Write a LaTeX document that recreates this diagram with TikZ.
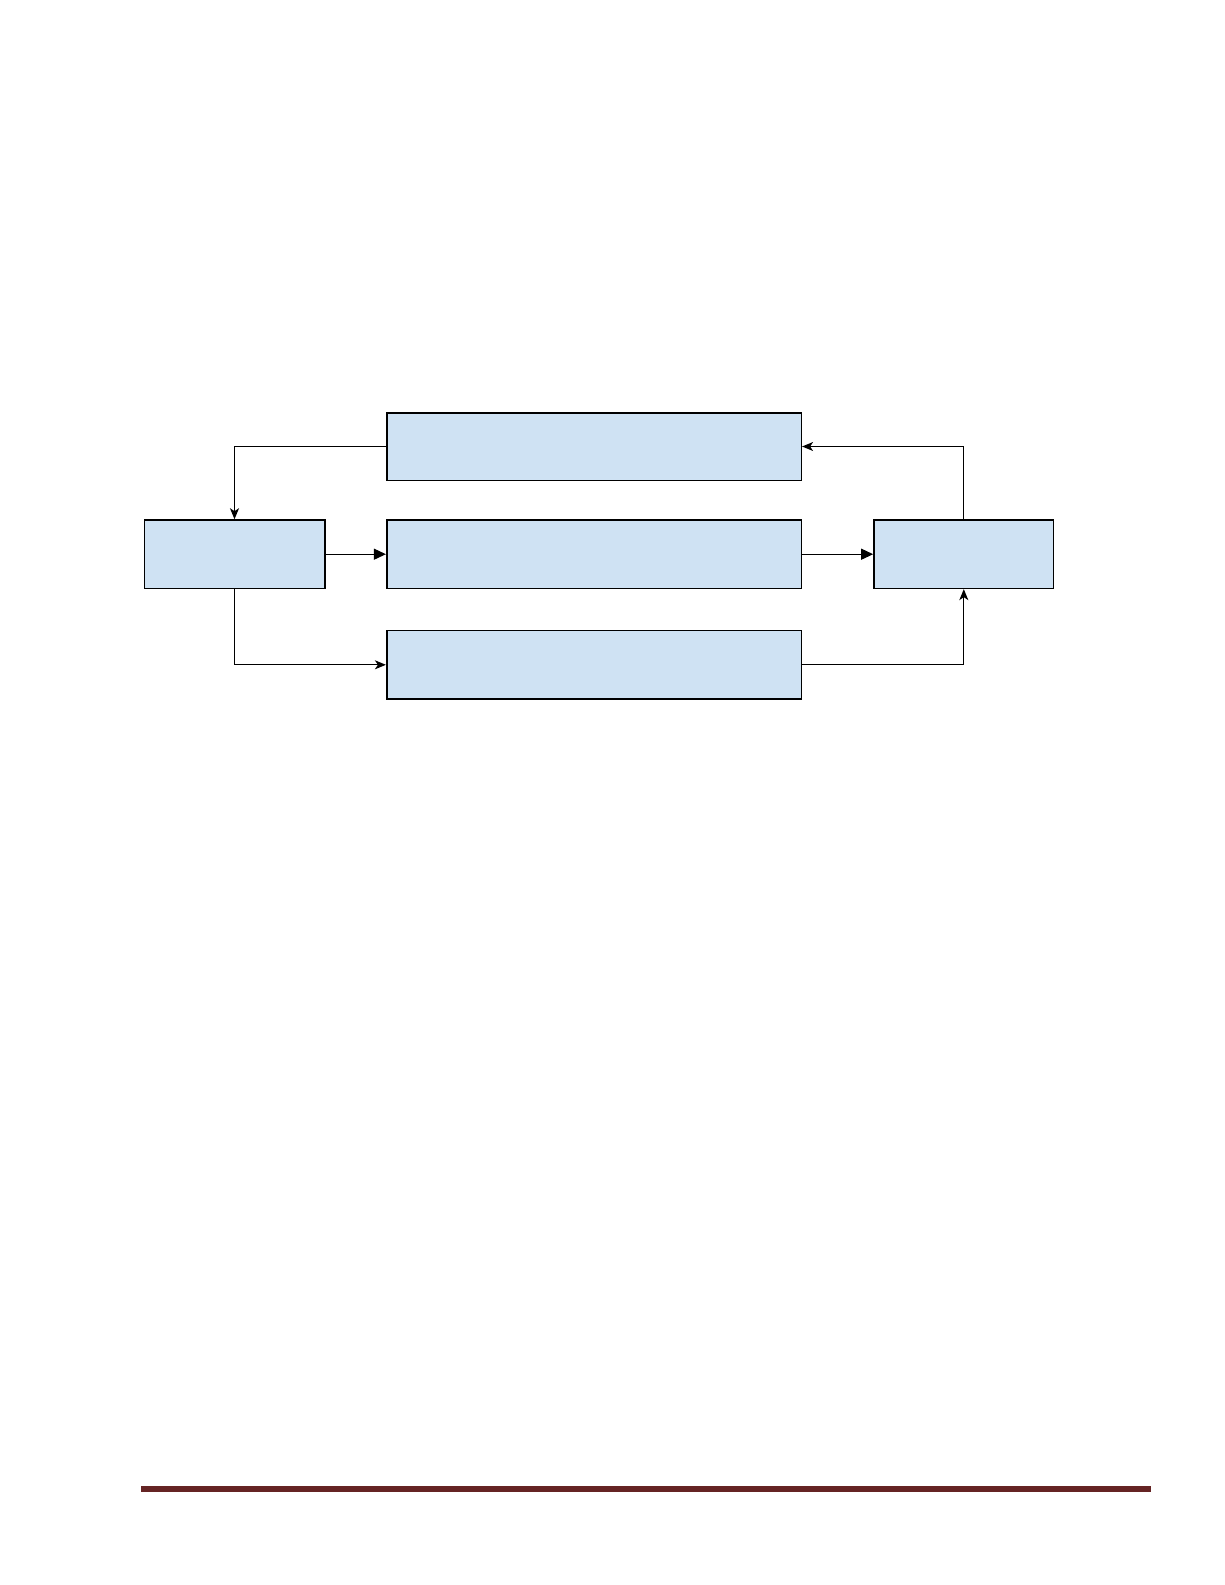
\documentclass[tikz,border=0pt]{standalone}
\usetikzlibrary{arrows.meta}
\definecolor{boxfill}{HTML}{CFE2F3}
\definecolor{barred}{HTML}{652424}
\begin{document}
\begin{tikzpicture}[x=1pt,y=-1pt,
  blk/.style={draw=black, fill=boxfill, line width=1.6pt, inner sep=0pt, rectangle},
  conn/.style={draw=black, line width=1.2pt, -{Stealth[length=11pt,width=9pt,inset=3pt]}},
  connf/.style={draw=black, line width=1.2pt, -{Triangle[length=12pt,width=11pt]}}]
\fill[white] (0,0) rectangle (1225,1585);
\useasboundingbox (0,0) rectangle (1225,1585);
\node[blk, minimum width=414.6pt, minimum height=67.6pt] (top) at (594,446.5) {};
\node[blk, minimum width=414.6pt, minimum height=68.3pt] (mid) at (594,554.2) {};
\node[blk, minimum width=414.6pt, minimum height=68.3pt] (bot) at (594,664.8) {};
\node[blk, minimum width=180.4pt, minimum height=68.3pt] (left) at (234.5,554.2) {};
\node[blk, minimum width=179.7pt, minimum height=68.3pt] (right) at (963.8,554.2) {};
\draw[conn] (top.west) -| (left.north);
\draw[connf] (left.east) -- (mid.west);
\draw[connf] (mid.east) -- (right.west);
\draw[conn] (left.south) |- (bot.west);
\draw[conn] (bot.east) -| (right.south);
\draw[conn] (right.north) |- (top.east);
\fill[barred] (141,1486) rectangle (1151,1492);
\end{tikzpicture}
\end{document}
